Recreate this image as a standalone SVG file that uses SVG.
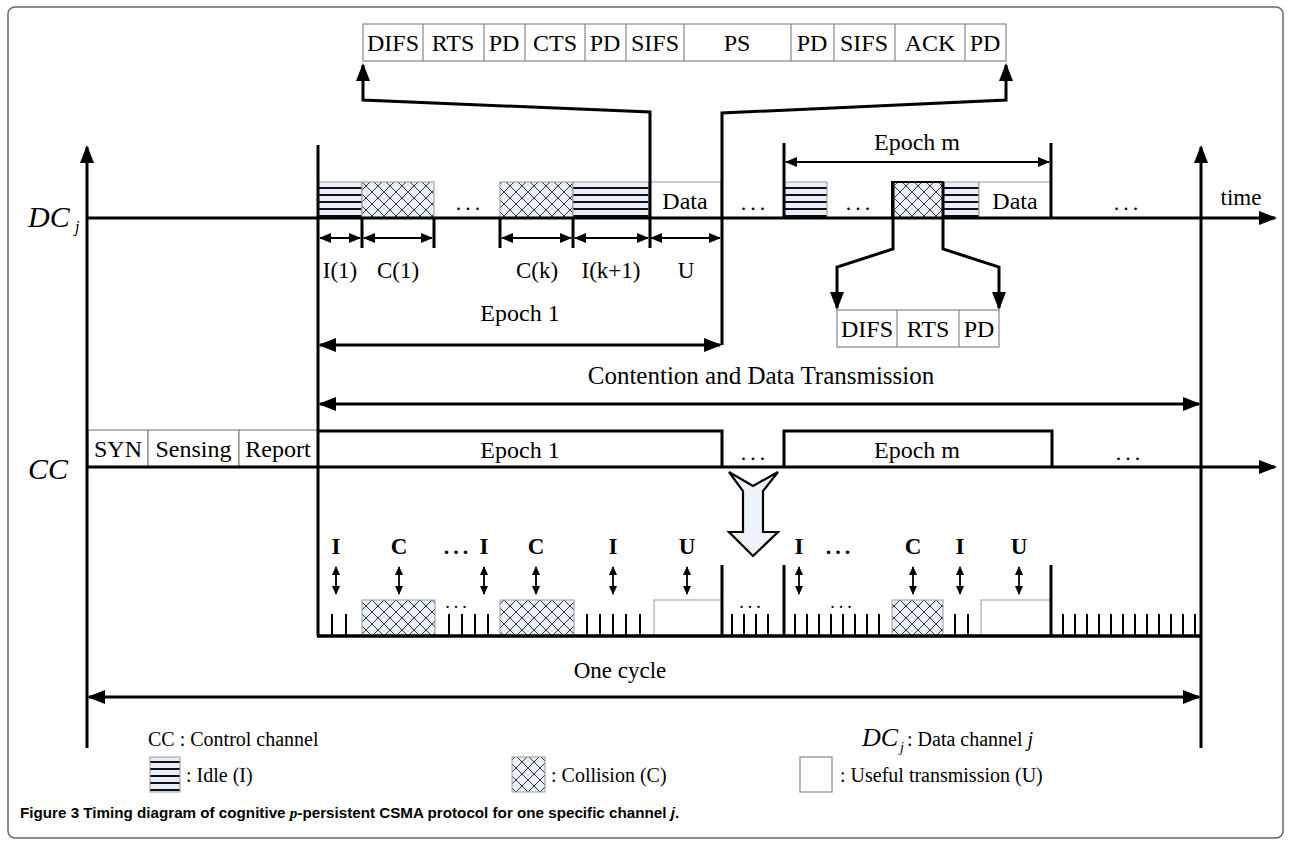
<svg xmlns="http://www.w3.org/2000/svg" width="1291" height="846" viewBox="0 0 1291 846">
<defs>
<style>
.t{font-family:"Liberation Serif","Times New Roman",serif;font-size:23px;fill:#000;text-anchor:middle}
.p{font-size:24px}
.tl{font-family:"Liberation Serif","Times New Roman",serif;font-size:20px;fill:#000}
.b{font-weight:bold}
.it{font-style:italic}
.cell{fill:#fff;stroke:#888;stroke-width:1.2}
.thick{stroke:#000;stroke-width:3;fill:none}
.med{stroke:#000;stroke-width:2.2;fill:none}
.tick{stroke:#000;stroke-width:2}
.dots{font-family:"Liberation Serif",serif;font-size:22px;letter-spacing:4px;text-anchor:middle}
.cap{font-family:"Liberation Sans",Arial,sans-serif;font-size:15.2px;font-weight:bold;fill:#000}
</style>
<pattern id="idle" width="10" height="7" patternUnits="userSpaceOnUse">
<rect width="10" height="7" fill="#e8eef8"/><rect y="5" width="10" height="2" fill="#111"/>
</pattern>
<pattern id="coll" width="12" height="12" patternUnits="userSpaceOnUse">
<rect width="12" height="12" fill="#e8eef8"/><path d="M0,0 L12,12 M12,0 L0,12" stroke="#222" stroke-width="0.9"/>
</pattern>
<marker id="ah" markerWidth="18" markerHeight="14" refX="16" refY="7" orient="auto-start-reverse" markerUnits="userSpaceOnUse"><path d="M0,0 L18,7 L0,14 z" fill="#000"/></marker>
<marker id="as" markerWidth="12" markerHeight="10" refX="11" refY="5" orient="auto-start-reverse" markerUnits="userSpaceOnUse"><path d="M0,0 L12,5 L0,10 z" fill="#000"/></marker>
<marker id="ax" markerWidth="9" markerHeight="8" refX="8" refY="4" orient="auto-start-reverse" markerUnits="userSpaceOnUse"><path d="M0,0 L9,4 L0,8 z" fill="#000"/></marker>
</defs>
<rect x="0" y="0" width="1291" height="846" fill="#fff"/>
<rect x="8" y="7" width="1275" height="831" rx="7" fill="none" stroke="#666" stroke-width="1.5"/>

<g id="packet-top">
<rect class="cell" x="363" y="24" width="643" height="37"/>
<path d="M423,24V61M484,24V61M525,24V61M585,24V61M626,24V61M684,24V61M791,24V61M834,24V61M895,24V61M965,24V61" stroke="#888" stroke-width="1.2"/>
<text class="t p" x="393" y="51">DIFS</text><text class="t p" x="453" y="51">RTS</text><text class="t p" x="504" y="51">PD</text>
<text class="t p" x="555" y="51">CTS</text><text class="t p" x="605" y="51">PD</text><text class="t p" x="655" y="51">SIFS</text>
<text class="t p" x="737" y="51">PS</text><text class="t p" x="812" y="51">PD</text><text class="t p" x="864" y="51">SIFS</text>
<text class="t p" x="930" y="51">ACK</text><text class="t p" x="985" y="51">PD</text>
</g>

<g id="packet-small">
<rect class="cell" x="837" y="310" width="162" height="37"/>
<path d="M897,310V347M959,310V347" stroke="#888" stroke-width="1.2"/>
<text class="t p" x="867" y="337">DIFS</text><text class="t p" x="928" y="337">RTS</text><text class="t p" x="979" y="337">PD</text>
</g>

<g id="dc-blocks">
<rect x="318" y="182" width="44" height="36" fill="url(#idle)" stroke="#999" stroke-width="1"/>
<rect x="362" y="182" width="72" height="36" fill="url(#coll)" stroke="#999" stroke-width="1"/>
<rect x="500" y="182" width="73" height="36" fill="url(#coll)" stroke="#999" stroke-width="1"/>
<rect x="573" y="182" width="76" height="36" fill="url(#idle)" stroke="#999" stroke-width="1"/>
<rect x="649" y="182" width="72" height="36" fill="#fff" stroke="#999" stroke-width="1"/>
<text class="t p" x="685" y="209">Data</text>
<rect x="784" y="182" width="43" height="36" fill="url(#idle)" stroke="#999" stroke-width="1"/>
<rect x="892" y="182" width="51" height="36" fill="url(#coll)" stroke="#000" stroke-width="2"/>
<rect x="943" y="182" width="36" height="36" fill="url(#idle)" stroke="#999" stroke-width="1"/>
<rect x="979" y="182" width="72" height="36" fill="#fff" stroke="#999" stroke-width="1"/>
<text class="t p" x="1015" y="209">Data</text>
<text class="dots" x="470" y="210">...</text>
<text class="dots" x="755" y="210">...</text>
<text class="dots" x="860" y="210">...</text>
<text class="dots" x="1128" y="210">...</text>
</g>

<g id="cc-blocks">
<rect class="cell" x="88" y="430" width="60" height="37"/>
<rect class="cell" x="148" y="430" width="91" height="37"/>
<rect class="cell" x="239" y="430" width="79" height="37"/>
<text class="t p" x="118" y="457">SYN</text><text class="t p" x="193.5" y="457">Sensing</text><text class="t p" x="278" y="457">Report</text>
<path class="thick" d="M318,431H722V467"/>
<path class="thick" d="M784,467V431H1052V467"/>
<text class="t p" x="520" y="458">Epoch 1</text>
<text class="t p" x="917" y="458">Epoch m</text>
<text class="dots" x="755" y="460">...</text>
<text class="dots" x="1130" y="460">...</text>
</g>

<g id="chevron">
<path d="M729,472 L753,486 L778,472 L763,491 L763,532 L778,532 L753,556 L729,532 L743,532 L743,491 Z" fill="#eef2fa" stroke="#000" stroke-width="2.2" stroke-linejoin="miter"/>
</g>

<g id="lower-row">
<rect x="362" y="600" width="73" height="36" fill="url(#coll)" stroke="#999" stroke-width="1"/>
<rect x="500" y="600" width="74" height="36" fill="url(#coll)" stroke="#999" stroke-width="1"/>
<rect x="654" y="600" width="68" height="36" fill="#fff" stroke="#999" stroke-width="1"/>
<rect x="892" y="600" width="51" height="36" fill="url(#coll)" stroke="#999" stroke-width="1"/>
<rect x="981" y="600" width="70" height="36" fill="#fff" stroke="#999" stroke-width="1"/>
<path class="tick" d="M332,614V636M346,614V636M449,614V636M462,614V636M475,614V636M488,614V636M587,614V636M600,614V636M613,614V636M626,614V636M640,614V636M732,614V636M744,614V636M756,614V636M768,614V636M795,614V636M807,614V636M819,614V636M831,614V636M843,614V636M855,614V636M867,614V636M879,614V636M955,614V636M968,614V636M1063,614V636M1075,614V636M1087,614V636M1099,614V636M1111,614V636M1123,614V636M1135,614V636M1147,614V636M1159,614V636M1171,614V636M1183,614V636M1195,614V636"/>
<text class="dots" x="458" y="608" style="font-size:18px">...</text>
<text class="dots" x="752" y="608" style="font-size:18px">...</text>
<text class="dots" x="843" y="608" style="font-size:18px">...</text>
<text class="t b" x="336" y="554">I</text>
<text class="t b" x="399" y="554">C</text>
<text class="dots b" x="458" y="554">...</text>
<text class="t b" x="484" y="554">I</text>
<text class="t b" x="536" y="554">C</text>
<text class="t b" x="613" y="554">I</text>
<text class="t b" x="687" y="554">U</text>
<text class="t b" x="799" y="554">I</text>
<text class="dots b" x="840" y="554">...</text>
<text class="t b" x="913" y="554">C</text>
<text class="t b" x="960" y="554">I</text>
<text class="t b" x="1019" y="554">U</text>
</g>

<g id="labels">
<text class="tl it" x="28" y="227" style="font-size:30px">DC</text>
<text class="tl it" x="75" y="232" style="font-size:16px">j</text>
<text class="tl it" x="28" y="479" style="font-size:30px">CC</text>
<text class="t" x="1241" y="205">time</text>
<text class="t" x="340" y="278">I(1)</text>
<text class="t" x="398" y="278">C(1)</text>
<text class="t" x="537" y="278">C(k)</text>
<text class="t" x="611" y="278">I(k+1)</text>
<text class="t" x="686" y="278">U</text>
<text class="t p" x="520" y="321">Epoch 1</text>
<text class="t p" x="917" y="150">Epoch m</text>
<text class="t" x="761" y="384" style="font-size:25px">Contention and Data Transmission</text>
<text class="t" x="620" y="678">One cycle</text>
<text class="tl" x="148" y="746">CC : Control channel</text>
<text class="tl it" x="862" y="746" style="font-size:26px">DC</text>
<text class="tl it" x="900" y="752" style="font-size:14px">j</text>
<text class="tl" x="907" y="746">: Data channel <tspan class="it">j</tspan></text>
</g>

<g id="legend">
<rect x="150" y="757" width="30" height="35" fill="url(#idle)" stroke="#999" stroke-width="1"/>
<text class="tl" x="186" y="782">: Idle (I)</text>
<rect x="512" y="757" width="33" height="35" fill="url(#coll)" stroke="#999" stroke-width="1"/>
<text class="tl" x="551" y="782">: Collision (C)</text>
<rect x="800" y="757" width="32" height="35" fill="#fff" stroke="#888" stroke-width="1.2"/>
<text class="tl" x="840" y="782">: Useful transmission (U)</text>
</g>

<g id="caption">
<text class="cap" x="20" y="818">Figure 3 Timing diagram of cognitive <tspan style="font-family:'Liberation Serif',serif;font-style:italic">p</tspan>-persistent CSMA protocol for one specific channel <tspan font-style="italic">j</tspan>.</text>
</g>

<g id="connectors">
<line class="thick" x1="87" y1="748" x2="87" y2="147" marker-end="url(#ah)"/>
<line class="thick" x1="1201" y1="748" x2="1201" y2="147" marker-end="url(#ah)"/>
<line class="thick" x1="87" y1="218" x2="1275" y2="218" marker-end="url(#ah)"/>
<line class="thick" x1="87" y1="467" x2="1275" y2="467" marker-end="url(#ah)"/>
<line class="thick" x1="318" y1="145" x2="318" y2="636"/>
<line x1="317" y1="636" x2="1202" y2="636" stroke="#000" stroke-width="3.5"/>
<path class="thick" d="M650,248V112L363,100V65" marker-end="url(#ah)"/>
<path class="thick" d="M722,345V113L1006,100V65" marker-end="url(#ah)"/>
<line class="thick" x1="784" y1="143" x2="784" y2="218"/>
<line class="thick" x1="1051" y1="143" x2="1051" y2="218"/>
<line class="med" x1="786" y1="162" x2="1049" y2="162" marker-start="url(#as)" marker-end="url(#as)"/>
<path class="thick" d="M893,182V249L837,267V308" marker-end="url(#ah)"/>
<path class="thick" d="M943,182V249L999,267V308" marker-end="url(#ah)"/>
<path class="thick" d="M362,218V248M434,218V248M500,218V248M573,218V248"/>
<line class="med" x1="320" y1="238" x2="360" y2="238" marker-start="url(#as)" marker-end="url(#as)"/>
<line class="med" x1="364" y1="238" x2="432" y2="238" marker-start="url(#as)" marker-end="url(#as)"/>
<line class="med" x1="502" y1="238" x2="571" y2="238" marker-start="url(#as)" marker-end="url(#as)"/>
<line class="med" x1="575" y1="238" x2="648" y2="238" marker-start="url(#as)" marker-end="url(#as)"/>
<line class="med" x1="651" y1="238" x2="720" y2="238" marker-start="url(#as)" marker-end="url(#as)"/>
<line class="thick" x1="320" y1="345" x2="720" y2="345" marker-start="url(#ah)" marker-end="url(#ah)"/>
<line class="thick" x1="320" y1="404" x2="1199" y2="404" marker-start="url(#ah)" marker-end="url(#ah)"/>
<line class="thick" x1="89" y1="697" x2="1199" y2="697" marker-start="url(#ah)" marker-end="url(#ah)"/>
<path class="thick" d="M722,565V636M784,565V636M1051,565V636"/>
<g stroke="#000" stroke-width="1.8">
<line x1="336" y1="567" x2="336" y2="594" marker-start="url(#ax)" marker-end="url(#ax)"/>
<line x1="399" y1="567" x2="399" y2="594" marker-start="url(#ax)" marker-end="url(#ax)"/>
<line x1="484" y1="567" x2="484" y2="594" marker-start="url(#ax)" marker-end="url(#ax)"/>
<line x1="536" y1="567" x2="536" y2="594" marker-start="url(#ax)" marker-end="url(#ax)"/>
<line x1="613" y1="567" x2="613" y2="594" marker-start="url(#ax)" marker-end="url(#ax)"/>
<line x1="687" y1="567" x2="687" y2="594" marker-start="url(#ax)" marker-end="url(#ax)"/>
<line x1="799" y1="567" x2="799" y2="594" marker-start="url(#ax)" marker-end="url(#ax)"/>
<line x1="913" y1="567" x2="913" y2="594" marker-start="url(#ax)" marker-end="url(#ax)"/>
<line x1="960" y1="567" x2="960" y2="594" marker-start="url(#ax)" marker-end="url(#ax)"/>
<line x1="1019" y1="567" x2="1019" y2="594" marker-start="url(#ax)" marker-end="url(#ax)"/>
</g>
</g>
</svg>
